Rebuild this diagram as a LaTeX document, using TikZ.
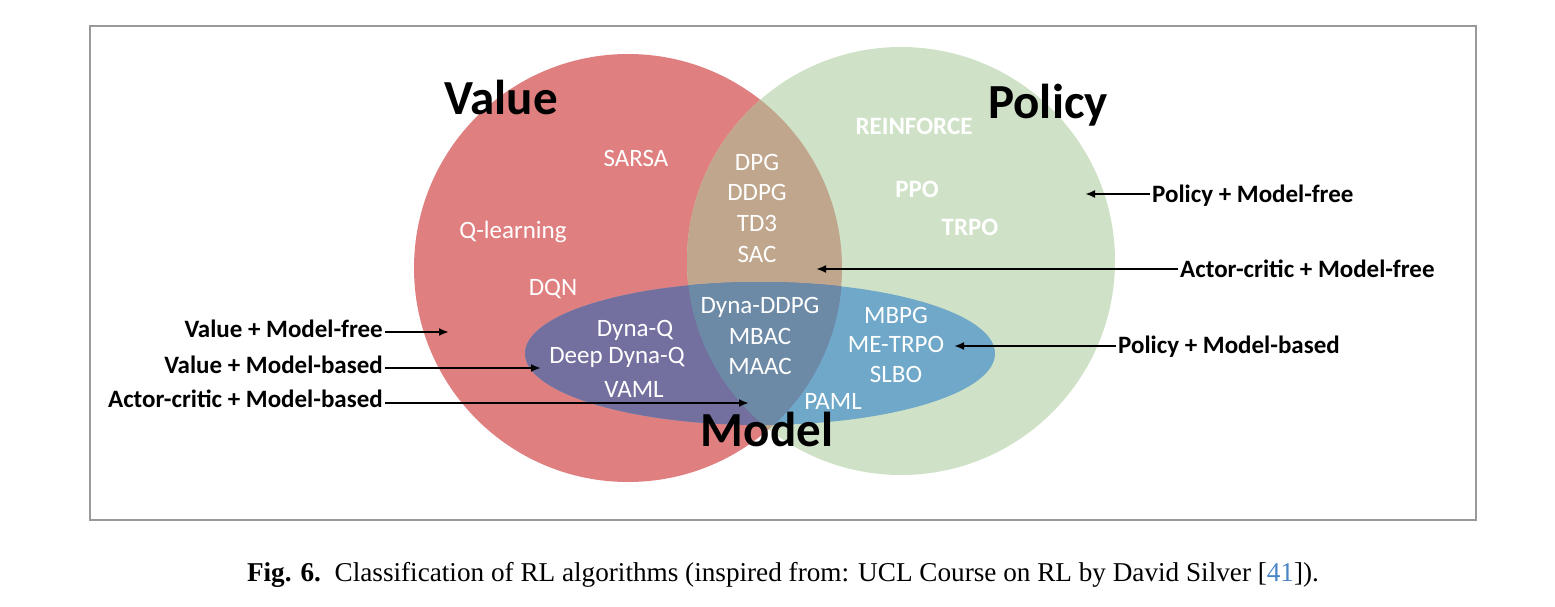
\documentclass[tikz,border=0pt]{standalone}
\usepackage{fontspec}
\setmainfont{Liberation Serif}
\newfontfamily\carl{Carlito}
\usetikzlibrary{arrows.meta,positioning}
\definecolor{valred}{HTML}{E07F7F}
\definecolor{polgreen}{HTML}{CFE2C7}
\definecolor{actortan}{HTML}{BFA68C}
\definecolor{modpurple}{HTML}{736F9E}
\definecolor{modmid}{HTML}{6C8AA6}
\definecolor{modblue}{HTML}{6FA8C8}
\definecolor{citeblue}{HTML}{4A86C5}
\tikzset{
  alg/.style={text=white,inner sep=0pt,anchor=base,font=\carl\fontsize{25}{30}\selectfont},
  algb/.style={alg,font=\carl\bfseries\fontsize{25}{30}\selectfont},
  big/.style={inner sep=0pt,anchor=base,font=\carl\bfseries\fontsize{49}{55}\selectfont},
  side/.style={inner sep=2pt,font=\carl\bfseries\fontsize{25}{29}\selectfont},
  pointer/.style={line width=2pt,-{Latex[length=10pt,width=8pt]}}
}

\begin{document}
\begin{tikzpicture}[x=1pt,y=-1pt]
\useasboundingbox (0,0) rectangle (1555,607);
\draw[black!40, line width=1.3pt] (90,26) rectangle (1476,520);

% the two circles and their overlap
\fill[valred] (628,268) circle (214pt);
\fill[polgreen] (901,261) circle (214pt);
\begin{scope}
  \clip (628,268) circle (214pt);
  \fill[actortan] (901,261) circle (214pt);
\end{scope}

% model ellipse
\fill[modblue] (760,353.5) ellipse [x radius=235pt, y radius=71.5pt];
\begin{scope}
  \clip (628,268) circle (214pt);
  \fill[modpurple] (760,353.5) ellipse [x radius=235pt, y radius=71.5pt];
  \clip (901,261) circle (214pt);
  \fill[modmid] (760,353.5) ellipse [x radius=235pt, y radius=71.5pt];
\end{scope}

\node[big] (value) at (501,115) {Value};
\node[big] (policy) at (1048,119) {Policy};
\node[big] (model) at (767,446) {Model};

% value only
\node[alg] (sarsa) at (636,166) {SARSA};
\node[alg] (qlearn) at (513,238) {Q-learning};
\node[alg] (dqn) at (553,295) {DQN};

% actor-critic
\node[alg] (dpg) at (757,170) {DPG};
\node[alg] (ddpg) at (757,200) {DDPG};
\node[alg] (tdt) at (757,231) {TD3};
\node[alg] (sac) at (757,262) {SAC};

% policy only
\node[algb] (reinforce) at (914,135) {REINFORCE};
\node[algb] (ppo) at (917,197) {PPO};
\node[algb] (trpo) at (970,235) {TRPO};

% model based
\node[alg] (dynaq) at (635,336) {Dyna-Q};
\node[alg] (deepdynaq) at (617,363) {Deep Dyna-Q};
\node[alg] (vaml) at (634,397) {VAML};
\node[alg] (dynaddpg) at (760,313) {Dyna-DDPG};
\node[alg] (mbac) at (760,344) {MBAC};
\node[alg] (maac) at (760,374) {MAAC};
\node[alg] (mbpg) at (896,323) {MBPG};
\node[alg] (metrpo) at (896,352) {ME-TRPO};
\node[alg] (slbo) at (896,382) {SLBO};
\node[alg] (paml) at (833,409) {PAML};

% side labels
\node[side,anchor=base east] (vfree) at (385,337) {Value + Model-free};
\node[side,anchor=base east] (vbased) at (385,373) {Value + Model-based};
\node[side,anchor=base east] (acbased) at (385,407) {Actor-critic + Model-based};
\node[side,anchor=base west] (pfree) at (1150,202) {Policy + Model-free};
\node[side,anchor=base west] (acfree) at (1178,277) {Actor-critic + Model-free};
\node[side,anchor=base west] (pbased) at (1116,353) {Policy + Model-based};

\coordinate (vfreetip) at (449,332);
\coordinate (vbasedtip) at (541,368);
\coordinate (acbasedtip) at (749,403);
\coordinate (pfreetip) at (1085,194);
\coordinate (acfreetip) at (816,269);
\coordinate (pbasedtip) at (954,346);

\draw[pointer] (vfree.east |- vfreetip) -- (vfreetip);
\draw[pointer] (vbased.east |- vbasedtip) -- (vbasedtip);
\draw[pointer] (acbased.east |- acbasedtip) -- (acbasedtip);
\draw[pointer] (pfree.west |- pfreetip) -- (pfreetip);
\draw[pointer] (acfree.west |- acfreetip) -- (acfreetip);
\draw[pointer] (pbased.west |- pbasedtip) -- (pbasedtip);

\node[inner sep=0pt,anchor=base,font=\fontsize{27.2}{32}\selectfont] (caption) at (783,581)
  {\textbf{Fig. 6.}\ \ Classification of RL algorithms (inspired from: UCL Course on RL by David Silver [\textcolor{citeblue}{41}]).};
\end{tikzpicture}
\end{document}
